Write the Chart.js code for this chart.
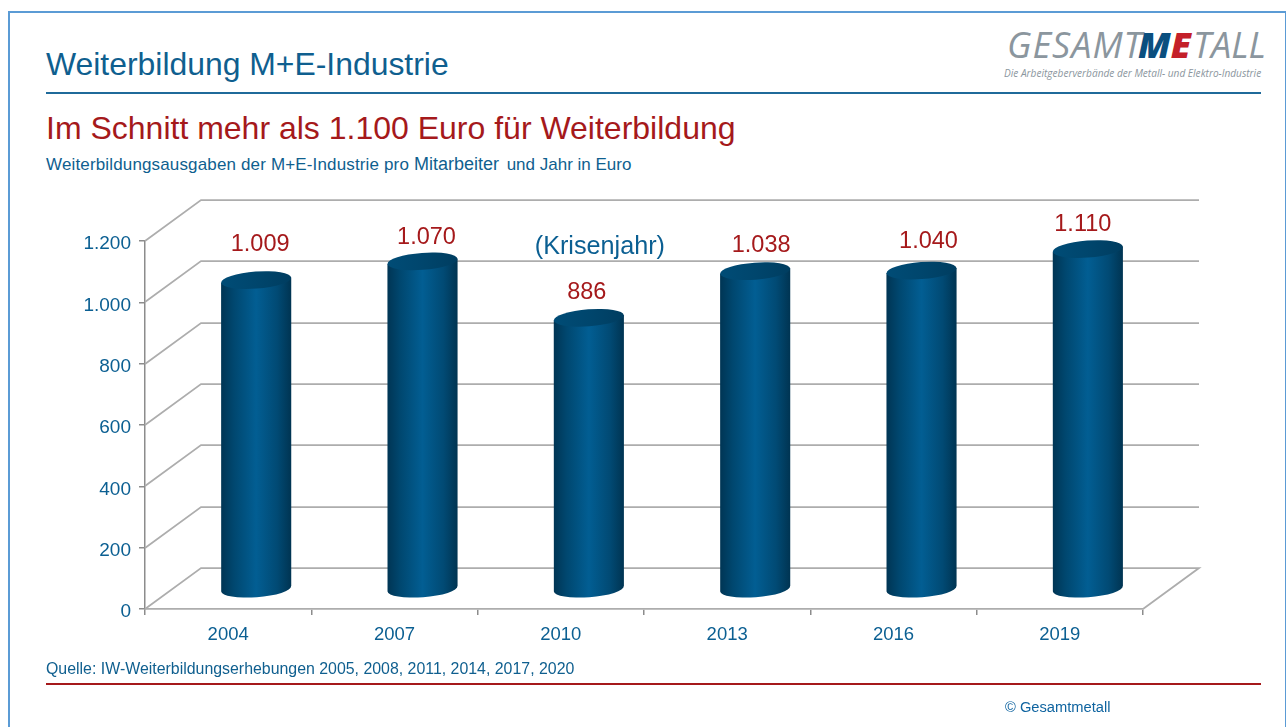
<!DOCTYPE html>
<html lang="de">

<head>
    <meta charset="UTF-8">
    <title>Weiterbildung M+E-Industrie</title>
    <script src="https://cdn.jsdelivr.net/npm/chart.js@4"></script>
    <style>
        html, body { margin: 0; padding: 0; background: #fff; overflow: hidden; }
        body { width: 1288px; height: 727px; position: relative; font-family: "Liberation Sans", Arial, sans-serif; }
        #chart { position: absolute; left: 0; top: 0; }
        .txt { position: absolute; white-space: nowrap; line-height: 1; }
        .rule { position: absolute; left: 46px; width: 1215px; height: 2px; }
        #frame { position: absolute; left: 8px; top: 11px; width: 1278px; height: 730px; border: 2px solid #5b9bd5; border-right-width: 1px; box-sizing: border-box; }
        #logo1, #logo2, #logo3 { font-family: "Open Sans", sans-serif; font-style: italic; font-size: 36px; color: #8b969e; top: 27px; }
        #logo1 { letter-spacing: 1px; }
        #logo2 { font-weight: 800; }
        #logo2 .m { color: #0b4f7f; }
        #logo2 .e { color: #c4202a; }
    </style>
</head>

<body>
    <div id="frame"></div>

    <div class="txt" style="left:46px;top:49px;font-size:31.9px;color:#0f5f8f">Weiterbildung M+E-Industrie</div>
    <div class="rule" style="top:92px;background:#1f6a9a"></div>

    <div class="txt" id="logo1" style="left:1007px">GESAMT</div>
    <div class="txt" id="logo2" style="left:1138px"><span class="m">M</span><span class="e">E</span></div>
    <div class="txt" id="logo3" style="left:1193px">TALL</div>
    <div class="txt" style="left:1004px;top:68px;font-family:'Open Sans',sans-serif;font-style:italic;font-size:10.1px;color:#8b969e">Die Arbeitgeberverbände der Metall- und Elektro-Industrie</div>

    <div class="txt" style="left:46px;top:112px;font-size:32px;color:#a5191b">Im Schnitt mehr als 1.100 Euro für Weiterbildung</div>
    <div class="txt" style="left:46px;top:155px;font-size:17px;color:#0f5f8f"><span style="letter-spacing:.15px">Weiterbildungsausgaben der M+E-Industrie pro </span><span style="font-size:18px;margin-right:3px">Mitarbeiter</span> und Jahr in Euro</div>

    <canvas id="chart" width="1288" height="727"></canvas>

    <div class="txt" style="left:46px;top:661px;font-size:15.9px;color:#0f5f8f">Quelle: IW-Weiterbildungserhebungen 2005, 2008, 2011, 2014, 2017, 2020</div>
    <div class="rule" style="top:683px;background:#a5191b"></div>
    <div class="txt" style="left:1005px;top:700px;font-size:14.7px;color:#0f64a0">© Gesamtmetall</div>

    <script>
        const years = ['2004', '2007', '2010', '2013', '2016', '2019'];
        const spending = [1009, 1070, 886, 1038, 1040, 1110];
        const yTicks = [0, 200, 400, 600, 800, 1000, 1200];
        const note = '(Krisenjahr)';
        const noteYear = '2010';

        // 3D look: depth of the floor and how far the bars sit into it
        const depthX = 56, depthY = -41;
        const barLift = -19.5;
        const tilt = -0.075, capRy = 8.5;
        // hand placed value labels, same as in the original slide [dx, dy]
        const labelNudge = [[4, -35], [4, -23], [-2, -24], [6, -25], [7, -28], [-5, -24]];

        const blue = '#0b5f92', red = '#a5191b', gridGrey = '#adadad';

        const fmt = v => v >= 1000 ? String(v).replace(/(\d)(\d{3})$/, '$1.$2') : String(v);

        // bar element drawn as a cylinder, sits half way into the floor
        class CylinderBar extends Chart.BarElement {
            static id = 'cylinderBar';
            draw(ctx) {
                const { x, y, base, width } = this.getProps(['x', 'y', 'base', 'width']);
                const cx = x + depthX / 2, top = y + barLift, bot = base + barLift;
                const rx = width / 2, dy = Math.sin(tilt) * rx;

                const body = ctx.createLinearGradient(cx - rx, 0, cx + rx, 0);
                body.addColorStop(0, '#003554');
                body.addColorStop(0.18, '#00476f');
                body.addColorStop(0.5, '#025e93');
                body.addColorStop(0.8, '#014a74');
                body.addColorStop(1, '#003452');

                ctx.save();
                ctx.fillStyle = body;
                ctx.beginPath();
                ctx.moveTo(cx - rx, top - dy);
                ctx.lineTo(cx + rx, top + dy);
                ctx.lineTo(cx + rx, bot + dy);
                ctx.ellipse(cx, bot, rx, capRy, tilt, 0, Math.PI);
                ctx.closePath();
                ctx.fill();

                const cap = ctx.createLinearGradient(cx - rx, 0, cx + rx, 0);
                cap.addColorStop(0, '#004c76');
                cap.addColorStop(0.5, '#00466d');
                cap.addColorStop(1, '#003d60');
                ctx.fillStyle = cap;
                ctx.beginPath();
                ctx.ellipse(cx, top, rx, capRy, tilt, 0, Math.PI * 2);
                ctx.fill();
                ctx.restore();
            }
        }

        class CylinderController extends Chart.BarController {
            static id = 'cylinder';
            static defaults = { ...Chart.BarController.defaults, dataElementType: 'cylinderBar' };
        }

        Chart.register(CylinderBar, CylinderController);

        const walls = {
            id: 'walls',
            beforeDatasetsDraw(chart) {
                const { ctx, scales: { x, y } } = chart;
                ctx.save();
                ctx.strokeStyle = gridGrey;
                ctx.lineWidth = 1.75;
                yTicks.forEach(v => {
                    const py = Math.round(y.getPixelForValue(v));
                    ctx.beginPath();
                    ctx.moveTo(x.left, py);
                    ctx.lineTo(x.left + depthX, py + depthY);
                    ctx.lineTo(x.right + depthX, py + depthY);
                    if (v === 0) ctx.lineTo(x.right, py);
                    ctx.stroke();
                });
                ctx.restore();
            }
        };

        const valueLabels = {
            id: 'valueLabels',
            afterDatasetsDraw(chart) {
                const { ctx, scales: { x, y } } = chart;
                ctx.save();
                ctx.font = '23.5px "Liberation Sans"';
                ctx.textAlign = 'center';
                ctx.textBaseline = 'middle';
                ctx.fillStyle = red;
                spending.forEach((v, i) => {
                    const px = x.getPixelForValue(i) + depthX / 2 + labelNudge[i][0];
                    const py = y.getPixelForValue(v) + depthY / 2 + labelNudge[i][1];
                    ctx.fillText(fmt(v), px, py);
                });
                ctx.fillStyle = blue;
                ctx.font = '25.2px "Liberation Sans"';
                const n = years.indexOf(noteYear);
                ctx.fillText(note, x.getPixelForValue(n) + 39, y.getPixelForValue(1200) + 6);
                ctx.restore();
            }
        };

        new Chart(document.getElementById('chart'), {
            type: 'cylinder',
            data: {
                labels: years,
                datasets: [{
                    data: spending,
                    barPercentage: 1,
                    categoryPercentage: 70 / 166,
                    clip: false
                }]
            },
            options: {
                responsive: false,
                animation: false,
                layout: { padding: { left: 79, right: 145, top: 241, bottom: 78 } },
                plugins: { legend: { display: false }, tooltip: { enabled: false } },
                scales: {
                    x: {
                        offset: true,
                        afterFit(s) { s.height = 40; },
                        grid: { drawOnChartArea: false, offset: true, tickLength: 6, color: '#8c8c8c', lineWidth: 1.5 },
                        border: { color: '#adadad', width: 1.75 },
                        ticks: { color: blue, font: { family: 'Liberation Sans', size: 18.5 }, padding: 9, maxRotation: 0 }
                    },
                    y: {
                        min: 0,
                        max: 1200,
                        afterFit(s) { s.width = 66; },
                        afterBuildTicks(s) { s.ticks = yTicks.map(v => ({ value: v })); },
                        grid: { drawOnChartArea: false, tickLength: 6, color: '#8c8c8c', lineWidth: 1.5 },
                        border: { color: '#8c8c8c', width: 1.5 },
                        ticks: { color: blue, font: { family: 'Liberation Sans', size: 19 }, padding: 8, labelOffset: 3, callback: v => fmt(v) }
                    }
                }
            },
            plugins: [walls, valueLabels]
        });
    </script>
</body>

</html>
